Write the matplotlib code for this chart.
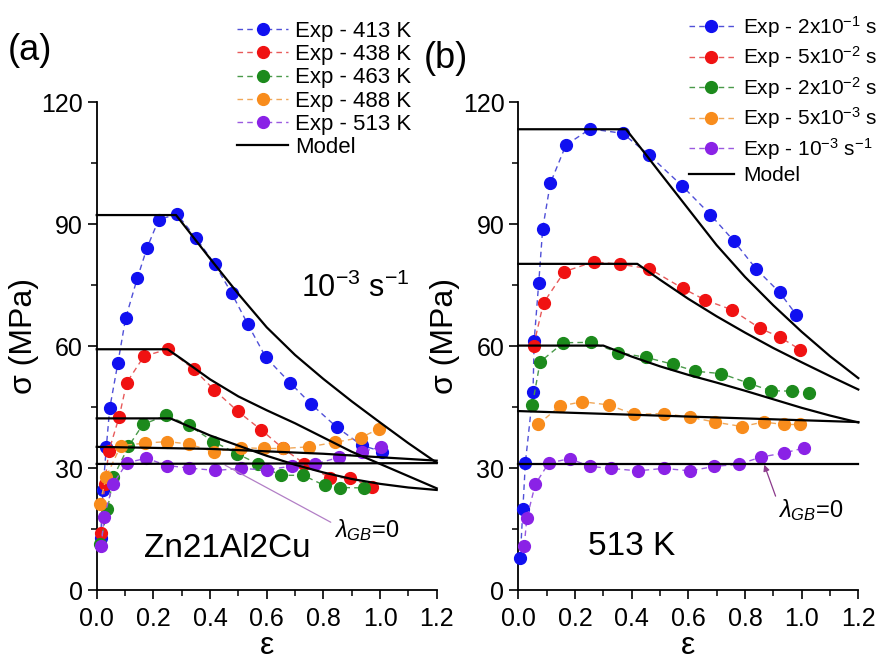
import matplotlib
matplotlib.use("Agg")
import matplotlib.pyplot as plt
from matplotlib.ticker import MultipleLocator

plt.rcParams['font.family'] = ['Liberation Sans', 'DejaVu Sans']
plt.rcParams['mathtext.fontset'] = 'custom'
plt.rcParams['mathtext.rm'] = 'Liberation Sans'
plt.rcParams['mathtext.it'] = 'Liberation Sans:italic'
plt.rcParams['mathtext.bf'] = 'Liberation Sans:bold'

# ---------------- Panel (a): Zn21Al2Cu, 10^-3 s^-1 ----------------
labels_a = ['Exp - 413 K', 'Exp - 438 K', 'Exp - 463 K', 'Exp - 488 K', 'Exp - 513 K']

a413_x = [0.014, 0.022, 0.034, 0.046, 0.075, 0.102, 0.143, 0.178, 0.219, 0.284, 0.351, 0.417,
          0.476, 0.533, 0.597, 0.682, 0.757, 0.848, 0.935, 1.008]
a413_y = [12.7, 24.6, 35.2, 44.7, 55.9, 66.8, 76.6, 84.2, 91.1, 92.4, 86.5, 80.1,
          73.0, 65.4, 57.2, 51.0, 45.7, 40.0, 35.6, 34.0]

a438_x = [0.014, 0.028, 0.043, 0.079, 0.106, 0.167, 0.251, 0.342, 0.415, 0.497, 0.58, 0.658,
          0.732, 0.823, 0.893, 0.973]
a438_y = [14.0, 26.0, 34.2, 42.5, 51.0, 57.5, 59.2, 54.3, 49.2, 44.0, 39.4, 34.8,
          31.1, 27.6, 27.6, 25.3]

a463_x = [0.012, 0.038, 0.059, 0.112, 0.163, 0.246, 0.325, 0.412, 0.496, 0.569, 0.649, 0.729,
          0.804, 0.86, 0.945]
a463_y = [11.2, 19.8, 27.8, 35.3, 40.7, 43.0, 40.5, 36.5, 33.5, 31.0, 28.2, 28.2,
          25.7, 25.2, 25.1]

a488_x = [0.011, 0.034, 0.085, 0.169, 0.249, 0.325, 0.413, 0.509, 0.589, 0.656, 0.75, 0.84,
          0.933, 0.995]
a488_y = [21.2, 27.9, 35.5, 36.1, 36.5, 35.9, 34.0, 35.0, 34.8, 34.8, 35.2, 36.3,
          37.5, 39.6]

a513_x = [0.016, 0.026, 0.058, 0.107, 0.175, 0.249, 0.325, 0.419, 0.511, 0.6, 0.689, 0.771,
          0.855, 0.935, 1.005]
a513_y = [10.8, 18.0, 26.1, 31.3, 32.4, 30.6, 30.0, 29.4, 29.9, 29.5, 30.5, 31.0,
          32.6, 34.0, 35.2]

# model curves (a)
ma413_x = [0.0, 0.28, 0.4, 0.5, 0.6, 0.7, 0.8, 0.9, 1.0, 1.1, 1.2]
ma413_y = [92.2, 92.2, 81.5, 72.8, 64.6, 57.8, 51.9, 46.4, 41.2, 36.1, 31.3]
ma438_x = [0.0, 0.25, 0.3, 0.4, 0.5, 0.6, 0.7, 0.8, 0.9, 1.0, 1.1, 1.2]
ma438_y = [59.2, 59.2, 56.8, 51.8, 47.6, 44.2, 41.0, 37.5, 34.0, 31.0, 28.0, 25.0]
ma463_x = [0.0, 0.26, 0.3, 0.4, 0.5, 0.6, 0.7, 0.8, 0.9, 1.0, 1.1, 1.2]
ma463_y = [42.2, 42.2, 41.0, 38.0, 35.5, 33.0, 30.8, 28.9, 27.3, 26.1, 25.2, 24.6]
ma488_x = [0.0, 0.4, 0.8, 1.2]
ma488_y = [35.2, 34.7, 33.5, 31.8]
ma513_x = [0.0, 1.2]
ma513_y = [31.0, 31.2]

# ---------------- Panel (b): 513 K, several strain rates ----------------
labels_b = ['Exp - 2x10$^{-1}$ s$^{-1}$', 'Exp - 5x10$^{-2}$ s$^{-1}$', 'Exp - 2x10$^{-2}$ s$^{-1}$',
            'Exp - 5x10$^{-3}$ s$^{-1}$', 'Exp - 10$^{-3}$ s$^{-1}$']

b1_x = [0.007, 0.016, 0.025, 0.052, 0.056, 0.072, 0.086, 0.113, 0.168, 0.254, 0.368, 0.461,
        0.578, 0.678, 0.76, 0.84, 0.922, 0.981]
b1_y = [7.9, 19.8, 31.3, 48.7, 61.3, 75.4, 88.8, 100.0, 109.4, 113.4, 112.3, 107.0,
        99.4, 92.3, 85.9, 78.9, 73.2, 67.7]

b2_x = [0.054, 0.089, 0.163, 0.266, 0.36, 0.463, 0.58, 0.66, 0.754, 0.852, 0.925, 0.995]
b2_y = [60.1, 70.6, 78.3, 80.7, 80.1, 79.0, 74.2, 71.3, 68.9, 64.4, 62.1, 59.1]

b3_x = [0.05, 0.077, 0.159, 0.256, 0.352, 0.451, 0.546, 0.625, 0.717, 0.815, 0.891, 0.965, 1.026]
b3_y = [45.6, 56.1, 60.8, 60.9, 58.4, 57.2, 55.5, 53.8, 53.2, 50.8, 49.0, 48.9, 48.5]

b4_x = [0.07, 0.146, 0.226, 0.32, 0.409, 0.513, 0.607, 0.693, 0.789, 0.866, 0.937, 0.996]
b4_y = [40.7, 45.2, 46.3, 45.5, 43.2, 43.4, 42.5, 41.3, 40.2, 41.3, 40.7, 40.7]

b5_x = [0.021, 0.03, 0.06, 0.107, 0.181, 0.252, 0.327, 0.421, 0.513, 0.607, 0.692, 0.778,
        0.857, 0.939, 1.007]
b5_y = [10.9, 17.6, 26.0, 31.2, 32.3, 30.4, 29.9, 29.3, 29.9, 29.3, 30.4, 30.9,
        32.7, 33.7, 34.9]

# model curves (b)
mb1_x = [0.0, 0.38, 0.45, 0.5, 0.6, 0.7, 0.8, 0.9, 1.0, 1.1, 1.2]
mb1_y = [113.3, 113.3, 107.1, 102.6, 93.7, 84.8, 77.0, 70.0, 63.5, 57.5, 52.1]
mb2_x = [0.0, 0.42, 0.5, 0.6, 0.7, 0.8, 0.9, 1.0, 1.1, 1.2]
mb2_y = [80.2, 80.2, 76.3, 71.6, 67.3, 63.3, 59.5, 56.0, 52.6, 49.3]
mb3_x = [0.0, 0.3, 0.4, 0.5, 0.6, 0.7, 0.8, 0.9, 1.0, 1.1, 1.2]
mb3_y = [60.1, 60.1, 57.4, 55.0, 52.9, 51.0, 49.0, 46.9, 44.8, 42.9, 41.2]
mb4_x = [0.0, 0.4, 0.8, 1.2]
mb4_y = [44.0, 43.1, 42.2, 41.3]
mb5_x = [0.0, 1.2]
mb5_y = [30.9, 30.9]

marker_colors = ['#1010f0', '#f01212', '#1c8a1c', '#f88c1c', '#8a22e6']
line_colors = ['#5050d8', '#e85a5a', '#4a9a4a', '#f0a85a', '#9a5ae0']

W, H = 876, 661
fig = plt.figure(figsize=(W / 100, H / 100), dpi=100)

def px_axes(left_px):
    return fig.add_axes([left_px / W, 1 - 590 / H, 340 / W, 488 / H])

ax_a = px_axes(96.7)
ax_b = px_axes(518.3)

def style(ax):
    ax.set_xlim(0, 1.2)
    ax.set_ylim(0, 120)
    for s in ['top', 'right']:
        ax.spines[s].set_visible(False)
    for s in ['left', 'bottom']:
        ax.spines[s].set_linewidth(1.3)
    ax.xaxis.set_major_locator(MultipleLocator(0.2))
    ax.xaxis.set_minor_locator(MultipleLocator(0.1))
    ax.yaxis.set_major_locator(MultipleLocator(30))
    ax.yaxis.set_minor_locator(MultipleLocator(15))
    ax.xaxis.set_major_formatter(matplotlib.ticker.FormatStrFormatter('%.1f'))
    ax.tick_params(which='major', direction='out', length=6.5, width=1.2, labelsize=18)
    ax.tick_params(axis='x', which='major', pad=6)
    ax.tick_params(axis='y', which='major', pad=3.5)
    ax.tick_params(which='minor', direction='out', length=4, width=1.1)
    ax.set_xlabel('ε', fontsize=23)
    ax.set_ylabel('σ (MPa)', fontsize=23)
    ax.xaxis.set_label_coords(0.5, -0.085)
    ax.yaxis.set_label_coords(-0.17, 0.52)

def draw(ax, xs, ys, mxs, mys, labels):
    handles = []
    for i, (x, y) in enumerate(zip(xs, ys)):
        h, = ax.plot(x, y, linestyle=(0, (4, 3)), linewidth=1.0, color=line_colors[i],
                     marker='o', markersize=8.5, markerfacecolor=marker_colors[i],
                     markeredgecolor=marker_colors[i], clip_on=False, zorder=3,
                     label=labels[i])
        handles.append(h)
    for i, (x, y) in enumerate(zip(mxs, mys)):
        hm, = ax.plot(x, y, color='black', linewidth=1.6, zorder=4, clip_on=False)
    hm.set_label('Model')
    handles.append(hm)
    return handles

style(ax_a)
style(ax_b)

ha = draw(ax_a, [a413_x, a438_x, a463_x, a488_x, a513_x],
          [a413_y, a438_y, a463_y, a488_y, a513_y],
          [ma413_x, ma438_x, ma463_x, ma488_x, ma513_x],
          [ma413_y, ma438_y, ma463_y, ma488_y, ma513_y], labels_a)
hb = draw(ax_b, [b1_x, b2_x, b3_x, b4_x, b5_x],
          [b1_y, b2_y, b3_y, b4_y, b5_y],
          [mb1_x, mb2_x, mb3_x, mb4_x, mb5_x],
          [mb1_y, mb2_y, mb3_y, mb4_y, mb5_y], labels_b)

leg_a = ax_a.legend(handles=ha, loc='upper left', bbox_to_anchor=(237 / W, 1 - 21 / H),
                    bbox_transform=fig.transFigure, frameon=False, fontsize=16,
                    handlelength=2.3, handletextpad=0.32, labelspacing=0.1,
                    borderpad=0, borderaxespad=0)
leg_b = ax_b.legend(handles=hb, loc='upper left', bbox_to_anchor=(689 / W, 1 - 14 / H),
                    bbox_transform=fig.transFigure, frameon=False, fontsize=15,
                    handlelength=2.15, handletextpad=0.45, labelspacing=0.22,
                    borderpad=0, borderaxespad=0)

# text annotations
ax_a.text(0.912, 74.1, '10$^{-3}$ s$^{-1}$', fontsize=22, ha='center', va='center')
ax_a.text(0.462, 10.2, 'Zn21Al2Cu', fontsize=24, ha='center', va='center')
ax_b.text(0.401, 10.8, '513 K', fontsize=24, ha='center', va='center')

ax_a.annotate(r'$\lambda_{GB}$=0', xy=(0.453, 30.7), xytext=(0.951, 14.7),
              fontsize=17, ha='center', va='center', annotation_clip=False,
              arrowprops=dict(arrowstyle='-', color='#b27fc6', lw=0.9,
                              shrinkA=0, shrinkB=0, relpos=(0.0, 0.75)))
ax_b.annotate(r'$\lambda_{GB}$=0', xy=(0.868, 30.8), xytext=(1.033, 19.6),
              fontsize=17, ha='center', va='center', annotation_clip=False,
              arrowprops=dict(arrowstyle='-|>', color='#8b3a8b', lw=0.9,
                              mutation_scale=9, shrinkA=0, shrinkB=0, relpos=(0.0, 0.75)))

fig.text(30 / W, 1 - 50 / H, '(a)', fontsize=26, ha='center', va='center')
fig.text(446 / W, 1 - 59 / H, '(b)', fontsize=26, ha='center', va='center')

fig.savefig('out.png', dpi=100)
